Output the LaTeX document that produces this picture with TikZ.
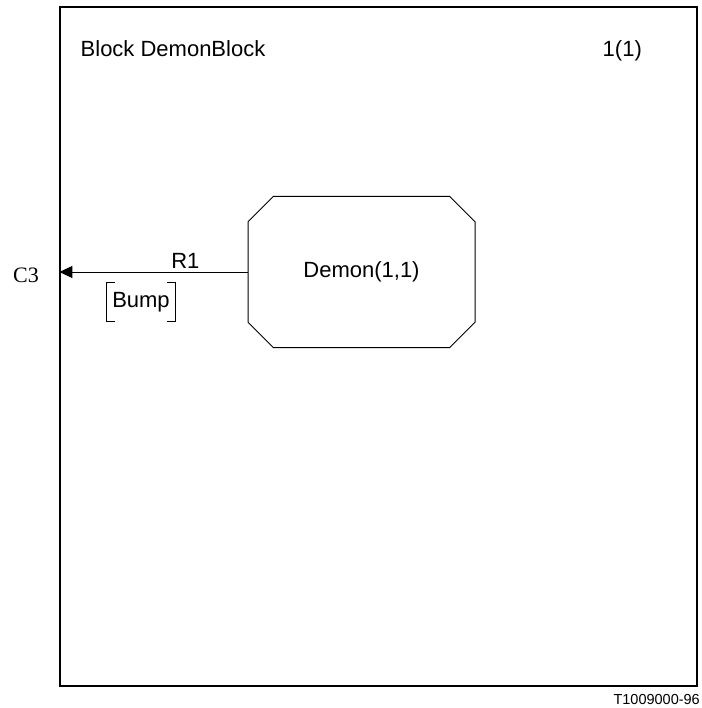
\documentclass[tikz,border=0pt]{standalone}
\usepackage{fontspec}
\setmainfont{Liberation Sans}
\newfontfamily\timesfont{Liberation Serif}
\usepackage{tikz}
\usetikzlibrary{arrows.meta}
\usetikzlibrary{shapes.misc}
\usetikzlibrary{positioning}
\tikzset{>=latex}
\tikzstyle{lbl} = [draw=none, inner sep=0pt, font=\fontsize{22}{26}\selectfont]
\tikzstyle{proc} = [chamfered rectangle, chamfered rectangle xsep=15pt, chamfered rectangle ysep=15pt, draw=black, line width=1pt, minimum width=227pt, minimum height=151pt, inner sep=0pt, font=\fontsize{22}{26}\selectfont]

\begin{document}
\begin{tikzpicture}[x=1pt, y=-1pt]
\useasboundingbox (0,0) rectangle (701,708);
\node [rectangle, draw=black, line width=1.3pt, minimum width=637pt, minimum height=679pt, inner sep=0pt] (Blk) at (378.5,346.5) {};
\node [lbl, anchor=base west] (Title) at (80.5,56.7) {Block DemonBlock};
\node [lbl, anchor=base west] (Page) at (602.5,56.7) {1(1)};
\node [proc] (Demon) at (361.5,272) {Demon(1,1)};
\coordinate (C) at (Blk.west |- Demon.west);
\node [lbl, anchor=base, font=\timesfont\fontsize{22}{26}\selectfont] (C3) at (26,282.7) {C3};
\draw [-{Triangle[length=13pt, width=12pt]}, line width=1pt, draw=black] (Demon.west) to node[pos=0.33, above=3.5pt, lbl]{R1} (C);
\node [lbl, minimum width=68pt, minimum height=39pt] (Bump) at (141,302) {Bump};
\draw [line width=1pt] ([xshift=8pt]Bump.north west) -- (Bump.north west) -- (Bump.south west) -- ([xshift=8pt]Bump.south west);
\draw [line width=1pt] ([xshift=-8pt]Bump.north east) -- (Bump.north east) -- (Bump.south east) -- ([xshift=-8pt]Bump.south east);
\node [draw=none, inner sep=0pt, anchor=base east, font=\fontsize{14.5}{17}\selectfont] (Ref) at (700,704.5) {T1009000-96};
\end{tikzpicture}
\end{document}
